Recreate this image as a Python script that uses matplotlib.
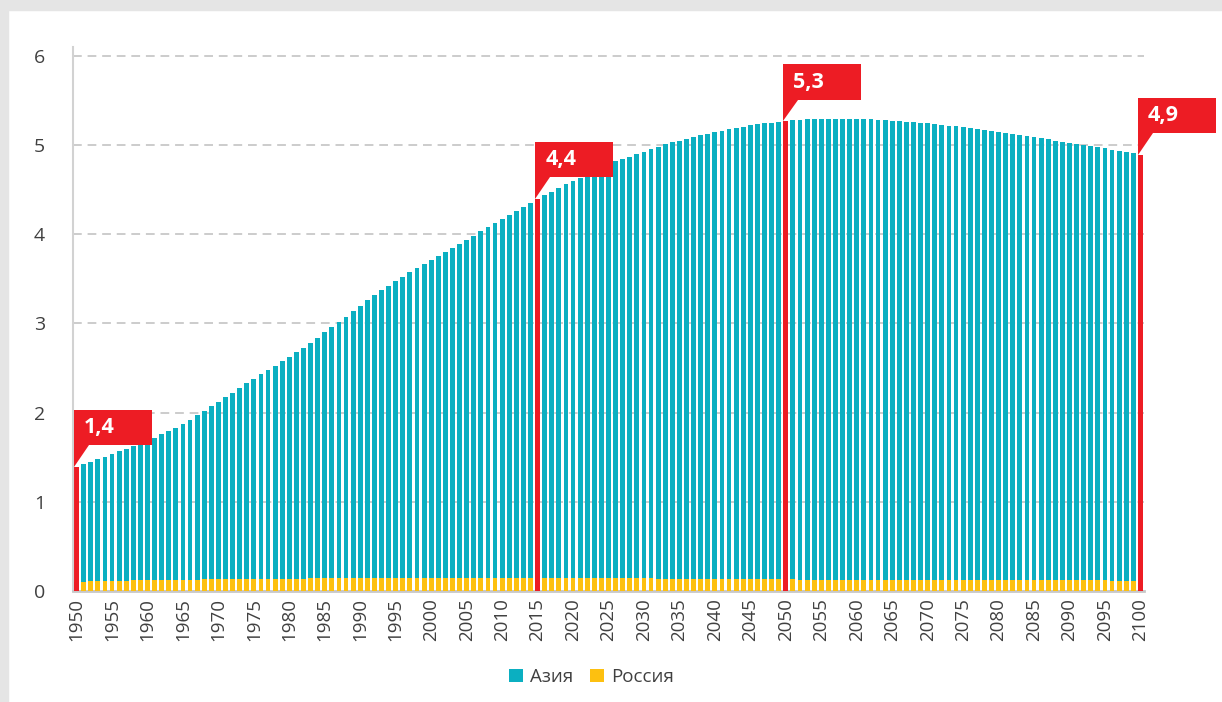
import matplotlib
matplotlib.use("Agg")
import matplotlib.pyplot as plt
import matplotlib.transforms as mtransforms
from matplotlib.patches import Polygon, Rectangle, Patch

plt.rcParams['font.family'] = ['Open Sans', 'DejaVu Sans']

years = list(range(1950, 2101))

asia = [
    1.395, 1.420, 1.447, 1.477, 1.506, 1.536, 1.566, 1.596, 1.626, 1.656,
    1.686, 1.720, 1.757, 1.794, 1.830, 1.873, 1.918, 1.970, 2.019, 2.070,
    2.123, 2.172, 2.224, 2.280, 2.330, 2.381, 2.430, 2.478, 2.527, 2.576,
    2.628, 2.677, 2.729, 2.785, 2.841, 2.901, 2.957, 3.020, 3.077, 3.140,
    3.200, 3.260, 3.316, 3.372, 3.424, 3.477, 3.525, 3.574, 3.622, 3.670,
    3.716, 3.760, 3.805, 3.850, 3.895, 3.940, 3.985, 4.034, 4.078, 4.123,
    4.168, 4.213, 4.261, 4.306, 4.355, 4.396, 4.437, 4.478, 4.520, 4.560,
    4.598, 4.635, 4.673, 4.710, 4.745, 4.780, 4.818, 4.840, 4.870, 4.900,
    4.927, 4.953, 4.983, 5.010, 5.030, 5.050, 5.072, 5.095, 5.114, 5.128,
    5.144, 5.162, 5.178, 5.193, 5.207, 5.223, 5.234, 5.245, 5.252, 5.260,
    5.270, 5.279, 5.286, 5.290, 5.293, 5.295, 5.296, 5.296, 5.295, 5.294,
    5.292, 5.290, 5.288, 5.285, 5.280, 5.274, 5.267, 5.263, 5.258, 5.252,
    5.245, 5.237, 5.228, 5.219, 5.209, 5.200, 5.188, 5.177, 5.166, 5.155,
    5.144, 5.132, 5.120, 5.109, 5.098, 5.087, 5.076, 5.064, 5.051, 5.038,
    5.026, 5.014, 5.003, 4.990, 4.977, 4.963, 4.948, 4.933, 4.920, 4.907,
    4.893,
]

russia = [
    0.103, 0.105, 0.107, 0.109, 0.111, 0.113, 0.115, 0.117, 0.118, 0.120,
    0.120, 0.122, 0.123, 0.124, 0.126, 0.127, 0.128, 0.128, 0.129, 0.130,
    0.130, 0.131, 0.132, 0.133, 0.134, 0.134, 0.135, 0.136, 0.137, 0.138,
    0.139, 0.139, 0.140, 0.141, 0.142, 0.143, 0.144, 0.145, 0.146, 0.147,
    0.148, 0.148, 0.149, 0.149, 0.148, 0.148, 0.148, 0.148, 0.147, 0.147,
    0.146, 0.146, 0.145, 0.145, 0.144, 0.144, 0.143, 0.143, 0.143, 0.143,
    0.143, 0.143, 0.144, 0.144, 0.145, 0.146, 0.146, 0.146, 0.146, 0.146,
    0.146, 0.146, 0.145, 0.145, 0.145, 0.144, 0.144, 0.143, 0.143, 0.142,
    0.141, 0.141, 0.140, 0.139, 0.139, 0.138, 0.137, 0.137, 0.136, 0.135,
    0.135, 0.134, 0.133, 0.133, 0.132, 0.132, 0.131, 0.131, 0.130, 0.130,
    0.129, 0.129, 0.128, 0.128, 0.127, 0.127, 0.127, 0.126, 0.126, 0.126,
    0.125, 0.125, 0.125, 0.124, 0.124, 0.124, 0.123, 0.123, 0.123, 0.123,
    0.122, 0.122, 0.122, 0.122, 0.122, 0.121, 0.121, 0.121, 0.121, 0.121,
    0.120, 0.120, 0.120, 0.120, 0.120, 0.119, 0.119, 0.119, 0.119, 0.119,
    0.118, 0.118, 0.118, 0.118, 0.118, 0.118, 0.117, 0.117, 0.117, 0.117,
    0.117,
]

highlight_years = [1950, 2015, 2050, 2100]
series_names = ["Азия", "Россия"]
yticks = [0, 1, 2, 3, 4, 5, 6]
xticks = list(range(1950, 2101, 5))

TEAL = "#0BAFC1"
YELLOW = "#FDC010"
RED = "#ED1C24"
TXT = "#404040"

W, H = 1222, 702
fig = plt.figure(figsize=(W / 100, H / 100), dpi=100)
fig.patch.set_facecolor("white")

# grey frame bands (top and left)
fig.add_artist(Rectangle((0, 1 - 10 / H), 1, 10 / H, transform=fig.transFigure,
                         color="#e5e5e5", zorder=0))
fig.add_artist(Rectangle((0, 0), 8 / W, 1, transform=fig.transFigure,
                         color="#e5e5e5", zorder=0))

ax = fig.add_axes([73 / W, 1 - 591 / H, 1071 / W, 544 / H])
ax.set_facecolor("white")

bw = 0.68
asia_colors = [RED if y in highlight_years else TEAL for y in years]
rus_colors = [RED if y in highlight_years else YELLOW for y in years]
ax.bar(years, asia, width=bw, color=asia_colors, linewidth=0, zorder=2)
ax.bar(years, russia, width=bw, color=rus_colors, linewidth=0, zorder=3)

ax.set_xlim(1949.5, 2100.5)
ax.set_ylim(0, 6.1)
ax.set_yticks(yticks)
ax.set_yticklabels([str(t) for t in yticks], fontsize=14, color=TXT)
ax.set_xticks(xticks)
ax.set_xticklabels([str(t) for t in xticks], rotation=90, fontsize=13.5, color=TXT)
ax.tick_params(axis="y", length=0, pad=20)
ax.tick_params(axis="x", length=0, pad=5)

ax.set_axisbelow(True)
ax.yaxis.grid(True, color="#cccccc", linewidth=1.4, linestyle=(0, (4.5, 3)))
for s in ("top", "right"):
    ax.spines[s].set_visible(False)
ax.spines["left"].set_color("#d2d2d2")
ax.spines["left"].set_linewidth(1.5)
ax.spines["bottom"].set_color("#c8c8c8")
ax.spines["bottom"].set_linewidth(2)

# red flag callouts (offsets in pixels -> inches at dpi 100)
box_w, box_top, box_bot, diag = 78, 57, 21.5, 15
for yr in highlight_years:
    v = asia[years.index(yr)]
    trans = fig.dpi_scale_trans + mtransforms.ScaledTranslation(yr - bw / 2, v, ax.transData)
    verts = [(0, 0), (0, box_top), (box_w, box_top), (box_w, box_bot), (diag, box_bot)]
    verts = [(x / 100, y / 100) for x, y in verts]
    poly = Polygon(verts, closed=True, transform=trans, facecolor=RED,
                   edgecolor="none", clip_on=False, zorder=5)
    ax.add_patch(poly)
    label = f"{v:.1f}".replace(".", ",")
    ax.text(10 / 100, 39 / 100, label, transform=trans, color="white",
            fontsize=15.5, fontweight="bold", ha="left", va="center",
            clip_on=False, zorder=6)

handles = [Patch(facecolor=TEAL, edgecolor="none"), Patch(facecolor=YELLOW, edgecolor="none")]
fig.legend(handles, series_names, loc="center", bbox_to_anchor=(0.484, 1 - 677 / H),
           ncol=2, frameon=False, fontsize=13.5, handlelength=0.75, handleheight=0.75,
           handletextpad=0.35, columnspacing=0.9, labelcolor=TXT)

fig.savefig("out.png", dpi=100)
